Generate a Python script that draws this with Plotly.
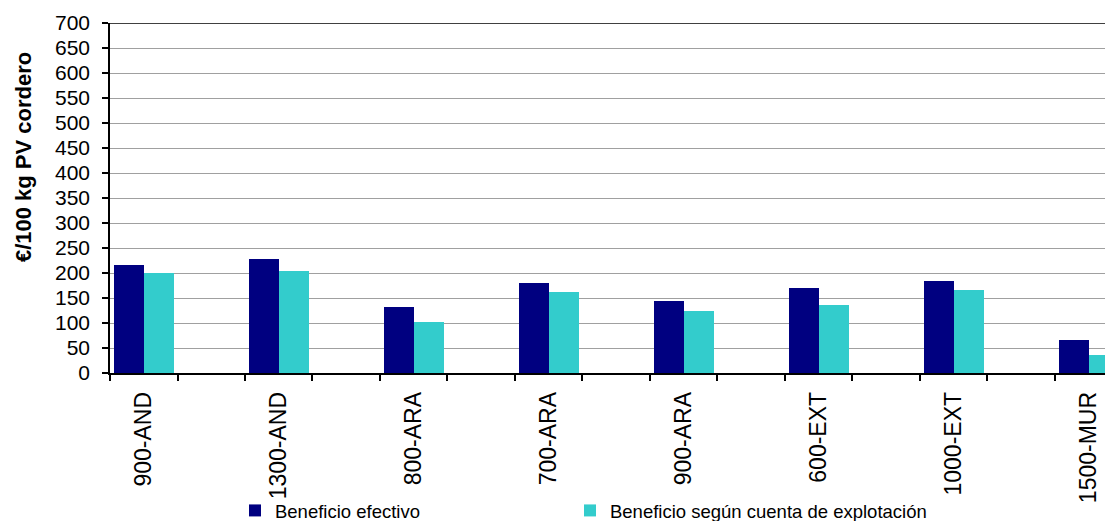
import plotly.graph_objects as go

categories = ["900-AND", "1300-AND", "800-ARA", "700-ARA", "900-ARA", "600-EXT", "1000-EXT", "1500-MUR"]
beneficio_efectivo = [217, 229, 133, 181, 145, 171, 185, 67]
beneficio_cuenta = [200, 205, 103, 163, 125, 137, 167, 37]
series_names = ["Beneficio efectivo", "Beneficio según cuenta de explotación"]
y_title = "€/100 kg PV cordero"
y_ticks = list(range(0, 701, 50))

# each labelled category is followed by an empty slot, as in the original
xpos = [2 * i for i in range(len(categories))]

FONT = "Arial, Liberation Sans, sans-serif"
bw = 0.444

fig = go.Figure()
fig.add_trace(go.Bar(x=xpos, y=beneficio_efectivo, name=series_names[0],
                     marker=dict(color="#000080", line=dict(width=0)),
                     width=bw, offset=-bw, legend="legend"))
fig.add_trace(go.Bar(x=xpos, y=beneficio_cuenta, name=series_names[1],
                     marker=dict(color="#33CCCC", line=dict(width=0)),
                     width=bw, offset=0, legend="legend2"))

leg_common = dict(orientation="h", xanchor="left", y=-0.394, yanchor="middle",
                  bgcolor="rgba(0,0,0,0)", font=dict(size=18.5, family=FONT),
                  itemsizing="constant")

# the page body adds an 8px offset, margins compensate for it
fig.update_layout(
    width=1113, height=521,
    margin=dict(l=102, r=8, t=15, b=156, autoexpand=False),
    paper_bgcolor="white", plot_bgcolor="white",
    font=dict(family=FONT, color="black"),
    showlegend=True,
    legend=dict(x=0.1246, **leg_common),
    legend2=dict(x=0.4586, **leg_common),
    xaxis=dict(range=[-0.5, 14.36], tickmode="array", tickvals=xpos, ticktext=categories,
               tickangle=-90, ticks="", showgrid=False, zeroline=False, automargin=False,
               showline=True, linecolor="black", linewidth=1.5,
               tickfont=dict(size=23, family=FONT), ticklabelstandoff=8,
               minor=dict(tickmode="linear", tick0=0.5, dtick=1, ticks="outside",
                          ticklen=6, tickcolor="black", tickwidth=1.5, showgrid=False)),
    yaxis=dict(range=[0, 700], tickmode="array", tickvals=y_ticks, automargin=False,
               ticks="outside", ticklen=6, tickcolor="black", tickwidth=1.5,
               showgrid=True, gridcolor="#a0a0a0", gridwidth=1, zeroline=False,
               showline=True, linecolor="black", linewidth=1.5,
               tickfont=dict(size=21, family=FONT), ticklabelstandoff=8),
    bargap=0,
)
fig.add_annotation(text="<b>" + y_title + "</b>", textangle=-90, showarrow=False,
                   xref="paper", yref="paper", x=-0.0867, y=0.617,
                   xanchor="center", yanchor="middle",
                   font=dict(size=22, family=FONT, color="black"))
fig.add_shape(type="line", xref="paper", yref="y", x0=0, x1=1, y0=700, y1=700,
              line=dict(color="black", width=1.5))

fig.write_html("out.html")
